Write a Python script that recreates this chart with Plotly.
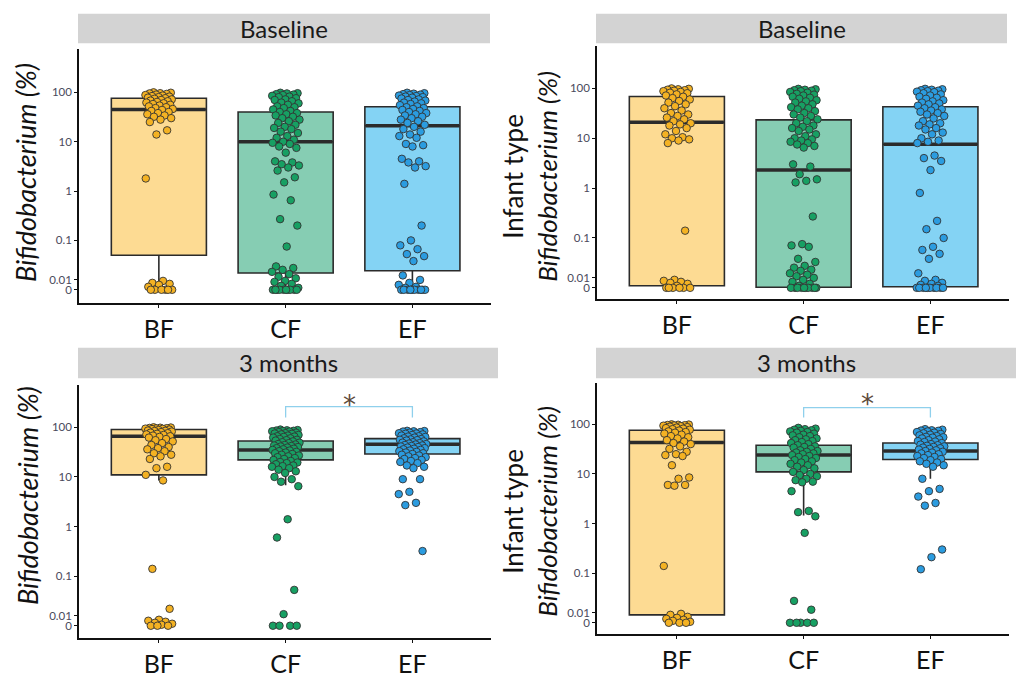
import math
import plotly.graph_objects as go

# ---------------- data ----------------
categories = ["BF", "CF", "EF"]
panel_titles = ["Baseline", "Baseline", "3 months", "3 months"]
ytick_values = [0, 0.01, 0.1, 1, 10, 100]
ytick_labels = ["0", "0.01", "0.1", "1", "10", "100"]

# Panel 1: Baseline, Bifidobacterium (%)
p1_BF = [100, 98, 96, 95, 93, 90, 88, 86, 84, 82, 80, 78, 76, 74, 72, 70, 68, 66, 64, 62,
         60, 58, 56, 54, 52, 50, 48, 46, 44, 42, 40, 38, 36, 34, 32, 30, 28, 25, 17, 14,
         1.8, 0.009, 0.007, 0.006, 0.005, 0.003, 0, 0, 0, 0, 0, 0]
p1_CF = [98, 96, 95, 92, 90, 88, 85, 82, 80, 76, 72, 70, 66, 62, 60, 56, 52, 50, 48, 45,
         42, 40, 38, 36, 34, 32, 30, 28, 26, 24, 22, 20, 19, 18, 16, 15, 13, 12, 11, 10,
         9.5, 9, 8, 7.5, 6, 4, 3.8, 3.5, 3.3, 3, 2.6, 1.9, 1.5, 0.85, 0.65, 0.27, 0.2, 0.07,
         0.022, 0.02, 0.018, 0.016, 0.014, 0.012, 0.011, 0.009, 0.008, 0.006, 0.004, 0.002,
         0, 0, 0, 0, 0, 0, 0, 0, 0, 0]
p1_EF = [98, 96, 94, 92, 90, 88, 86, 84, 82, 80, 78, 75, 72, 70, 68, 65, 62, 60, 58, 55,
         52, 50, 48, 46, 44, 42, 40, 38, 36, 34, 32, 30, 28, 26, 24, 22, 20, 18, 16, 14,
         13, 12, 9, 8.5, 8, 4.5, 4, 3.8, 3.2, 3, 1.4, 0.2, 0.1, 0.075, 0.06, 0.045, 0.04, 0.03,
         0.013, 0.01, 0.007, 0.005, 0.003, 0.002, 0, 0, 0, 0, 0, 0, 0, 0, 0, 0]

# Panel 2: Baseline, infant type Bifidobacterium (%)
p2_BF = [100, 98, 96, 94, 92, 90, 88, 85, 82, 80, 76, 72, 68, 64, 60, 56, 52, 48, 44, 40,
         36, 32, 30, 28, 26, 24, 22, 20, 19, 18, 16, 14, 12, 10.5, 10, 9.5, 9, 8,
         0.14, 0.008, 0.007, 0.006, 0.005, 0.004, 0.002, 0, 0, 0, 0, 0, 0]
p2_CF = [98, 96, 94, 92, 90, 88, 85, 82, 78, 75, 72, 68, 65, 62, 58, 55, 52, 48, 45, 42,
         40, 38, 35, 32, 30, 28, 26, 24, 22, 20, 18, 17, 16, 15, 14, 12, 11, 10, 9.5, 9,
         8.5, 8, 7.5, 7, 6.5, 3, 2.7, 1.9, 1.5, 1.4, 1.3, 0.27, 0.07, 0.065, 0.06,
         0.03, 0.025, 0.02, 0.018, 0.016, 0.015, 0.013, 0.012, 0.011, 0.01, 0.008, 0.006,
         0.004, 0.002, 0, 0, 0, 0, 0, 0, 0, 0, 0, 0]
p2_EF = [98, 96, 94, 92, 90, 88, 86, 84, 80, 76, 72, 68, 65, 62, 58, 55, 52, 50, 48, 45,
         42, 40, 38, 36, 34, 32, 30, 28, 25, 22, 20, 19, 18, 16, 15, 13, 12, 10, 9, 8.5,
         8, 4.5, 4, 3.5, 2.3, 0.8, 0.22, 0.15, 0.1, 0.06, 0.05, 0.04, 0.03,
         0.013, 0.008, 0.007, 0.005, 0.004, 0.003, 0.002, 0, 0, 0, 0, 0, 0, 0, 0, 0, 0]

# Panel 3: 3 months, Bifidobacterium (%)
p3_BF = [100, 99, 98, 97, 96, 95, 94, 93, 92, 90, 88, 86, 85, 84, 82, 80, 78, 76, 74, 72,
         70, 68, 66, 64, 62, 58, 55, 52, 48, 44, 40, 38, 36, 33, 30, 28, 26, 23, 16, 15,
         11, 8.5, 0.14, 0.015, 0.006, 0.005, 0.004, 0.003, 0.002, 0.001, 0, 0, 0]
p3_CF = [90, 88, 87, 86, 85, 84, 83, 82, 80, 78, 76, 75, 74, 72, 70, 68, 66, 65, 64, 62,
         60, 58, 56, 55, 54, 52, 50, 49, 48, 46, 45, 44, 43, 42, 41, 40, 39, 38, 37, 36,
         35, 34, 33, 32, 31, 30, 29, 28, 27, 26, 25, 24, 23, 22, 21, 20, 19.5, 19, 18, 17,
         16.5, 16, 15, 14, 13, 12, 10, 9, 8, 6.5, 1.4, 0.6, 0.045, 0.011, 0, 0, 0, 0]
p3_EF = [85, 84, 83, 82, 80, 78, 76, 75, 74, 72, 70, 68, 66, 65, 64, 62, 60, 58, 57, 56,
         55, 54, 52, 50, 49, 48, 47, 46, 45, 44, 43, 42, 41, 40, 39, 38, 37, 36, 35, 34,
         33, 32, 31, 30, 29, 28, 27, 26, 25, 24, 23, 22, 21, 20, 19, 17, 16, 15, 9, 9,
         5, 4.5, 3, 2.7, 0.32]

# Panel 4: 3 months, infant type Bifidobacterium (%)
p4_BF = [100, 99, 98, 97, 96, 95, 94, 92, 90, 88, 86, 84, 82, 80, 78, 75, 72, 70, 68, 65,
         62, 58, 55, 52, 48, 45, 42, 40, 36, 32, 28, 25, 24, 23, 15, 8.5, 8, 6, 6, 5.8,
         0.14, 0.009, 0.008, 0.006, 0.005, 0.004, 0.003, 0.002, 0.001, 0, 0, 0]
p4_CF = [85, 82, 80, 78, 76, 74, 72, 70, 68, 65, 62, 60, 58, 55, 52, 50, 48, 46, 44, 42,
         40, 38, 36, 35, 34, 32, 30, 29, 28, 27, 26, 25, 24, 23, 22, 21, 20, 19, 18, 17,
         16, 15, 14, 13, 12, 11, 10, 9.5, 9, 8, 7.5, 7, 6.8, 4.5, 1.8, 1.7, 1.4,
         0.65, 0.02, 0.012, 0, 0, 0, 0, 0]
p4_EF = [80, 78, 76, 75, 74, 72, 70, 68, 66, 64, 62, 60, 58, 56, 55, 54, 52, 50, 48, 46,
         45, 44, 42, 40, 39, 38, 37, 36, 35, 34, 33, 32, 31, 30, 29, 28, 27, 26, 25, 24,
         23, 22, 21, 20, 19, 18, 17, 16, 15, 14, 8, 5, 4.5, 3.5, 2.6, 2.3, 0.3, 0.21, 0.12]

# Box statistics (percent): q1, median, q3, lower whisker, upper whisker
box_q1 = [[0.042, 0.015, 0.017], [0.002, 0.0006, 0.001], [11, 22, 29], [0.008, 11, 19.6]]
box_med = [[45, 10, 21], [21, 2.3, 7.6], [66, 35, 45.5], [43, 24, 29]]
box_q3 = [[76, 40, 51], [69, 23.4, 43], [90, 53, 59], [76, 38, 42]]
box_lo = [[0.007, 0.0, 0.0], [0.0, 0.0, 0.0], [8.5, 6.8, 15], [0.0, 1.45, 8]]
box_hi = [[100, 98, 98], [100, 98, 98], [100, 90, 85], [100, 85, 80]]

points = [[p1_BF, p1_CF, p1_EF], [p2_BF, p2_CF, p2_EF],
          [p3_BF, p3_CF, p3_EF], [p4_BF, p4_CF, p4_EF]]

# ---------------- styling ----------------
W, H = 1016, 678
box_fill = ["#FDDB93", "#86CDB3", "#84D3F4"]
pt_fill = ["#F4B223", "#17A063", "#2B9CE0"]
edge = "#2b2b2b"
FONT = "Lato"

# panel geometry in pixels: x0, x1, ytop, ybot, pixel of value 0, px per decade
geom = [
    (79, 491, 50, 308, 295, 50.25),
    (597, 1009, 47, 304, 293, 50.75),
    (79, 491, 392, 649, 637, 50.5),
    (597, 1009, 390, 645, 634, 50.5),
]
strips = [(78, 490, 14, 44), (596, 1007, 14, 44), (78, 498, 354, 385), (596, 1016, 354, 385)]
XR = [0.37, 3.62]


def tr(v):
    """pseudo-log scale used by the figure: linear 0..0.01, log above."""
    if v <= 0.01:
        return v / 0.01 * 0.2
    if v <= 0.1:
        return 0.2 + (math.log10(v) + 2) * 0.8
    return math.log10(v) + 2


def jitter(n, w=0.11):
    return [(((i * 0.6180339887 + 0.31) % 1.0) - 0.5) * 2 * w for i in range(n)]


fig = go.Figure()
layout = dict(width=W, height=H, margin=dict(l=0, r=0, t=0, b=0),
              paper_bgcolor="white", plot_bgcolor="white", showlegend=False,
              font=dict(family=FONT), shapes=[], annotations=[])

for p in range(4):
    x0, x1, yt, yb, y0px, unit = geom[p]
    xa = "x" if p == 0 else f"x{p+1}"
    ya = "y" if p == 0 else f"y{p+1}"
    yr = [(y0px - yb) / unit, (y0px - yt) / unit]
    layout["xaxis" if p == 0 else f"xaxis{p+1}"] = dict(
        domain=[x0 / W, x1 / W], range=XR, anchor=ya, showgrid=False, zeroline=False,
        showline=True, linecolor="#111", linewidth=1.6, ticks="outside", ticklen=4,
        tickcolor="#111", tickvals=[1, 2, 3], ticktext=categories,
        tickfont=dict(size=25, color="#111", family=FONT), fixedrange=True)
    layout["yaxis" if p == 0 else f"yaxis{p+1}"] = dict(
        domain=[1 - yb / H, 1 - yt / H], range=yr, anchor=xa, showgrid=False,
        zeroline=False, showline=True, linecolor="#111", linewidth=1.6, ticks="outside",
        ticklen=3, tickcolor="#111", tickvals=[tr(v) for v in ytick_values],
        ticktext=ytick_labels, tickfont=dict(size=11.5, color="#4a4a5c", family=FONT),
        fixedrange=True)

    # boxes
    for c in range(3):
        fig.add_trace(go.Box(
            x=[c + 1], q1=[tr(box_q1[p][c])], median=[tr(box_med[p][c])],
            q3=[tr(box_q3[p][c])], lowerfence=[tr(box_lo[p][c])],
            upperfence=[tr(box_hi[p][c])], width=0.75, whiskerwidth=0,
            fillcolor=box_fill[c], line=dict(color=edge, width=1.6),
            boxpoints=False, hoverinfo="skip", xaxis=xa, yaxis=ya))
    # thick median bars
    for c in range(3):
        m = tr(box_med[p][c])
        fig.add_trace(go.Scatter(
            x=[c + 1 - 0.37, c + 1 + 0.37], y=[m, m], mode="lines",
            line=dict(color=edge, width=3.5), hoverinfo="skip", xaxis=xa, yaxis=ya))
    # jittered points
    for c in range(3):
        vals = points[p][c]
        js = jitter(len(vals))
        fig.add_trace(go.Scatter(
            x=[c + 1 + j for j in js], y=[tr(v) for v in vals], mode="markers",
            marker=dict(size=7.5, color=pt_fill[c], line=dict(color="#333", width=0.9)),
            hoverinfo="skip", xaxis=xa, yaxis=ya))

    # strip
    sx0, sx1, sy0, sy1 = strips[p]
    layout["shapes"].append(dict(type="rect", xref="paper", yref="paper",
                                 x0=sx0 / W, x1=sx1 / W, y0=1 - sy1 / H, y1=1 - sy0 / H,
                                 fillcolor="#D3D3D3", line=dict(width=0), layer="below"))
    layout["annotations"].append(dict(
        text=panel_titles[p], xref="paper", yref="paper", x=(sx0 + sx1) / 2 / W,
        y=1 - (sy0 + sy1) / 2 / H, showarrow=False, xanchor="center", yanchor="middle",
        font=dict(size=24, color="#1a1a1a", family=FONT)))

# y-axis titles
ytitle_left = "<i>Bifidobacterium (%)</i>"
ytitle_right = "Infant type<br><i>Bifidobacterium (%)</i>"
for (txt, xc, yc, fs) in [(ytitle_left, 26, 176, 27), (ytitle_right, 530, 180, 26),
                          (ytitle_left, 27, 505, 27), (ytitle_right, 530, 521, 26)]:
    layout["annotations"].append(dict(
        text=txt, xref="paper", yref="paper", x=xc / W, y=1 - yc / H, showarrow=False,
        textangle=-90, xanchor="center", yanchor="middle",
        font=dict(size=fs, color="#111", family=FONT)))

# significance brackets (CF vs EF at 3 months)
for p, (ytop, yend, ystar) in [(2, (4.416, 4.198, 4.10)), (3, (4.337, 4.139, 4.06))]:
    xa, ya = f"x{p+1}", f"y{p+1}"
    fig.add_trace(go.Scatter(x=[2, 2, 3, 3], y=[yend, ytop, ytop, yend], mode="lines",
                             line=dict(color="#8fd0ec", width=1.3), hoverinfo="skip",
                             xaxis=xa, yaxis=ya))
    layout["annotations"].append(dict(
        text="*", xref=xa, yref=ya, x=2.5, y=ystar, showarrow=False,
        xanchor="center", yanchor="bottom",
        font=dict(size=26, color="#5c4a3a", family="DejaVu Sans")))

fig.update_layout(**layout)
fig.write_html("out.html")
